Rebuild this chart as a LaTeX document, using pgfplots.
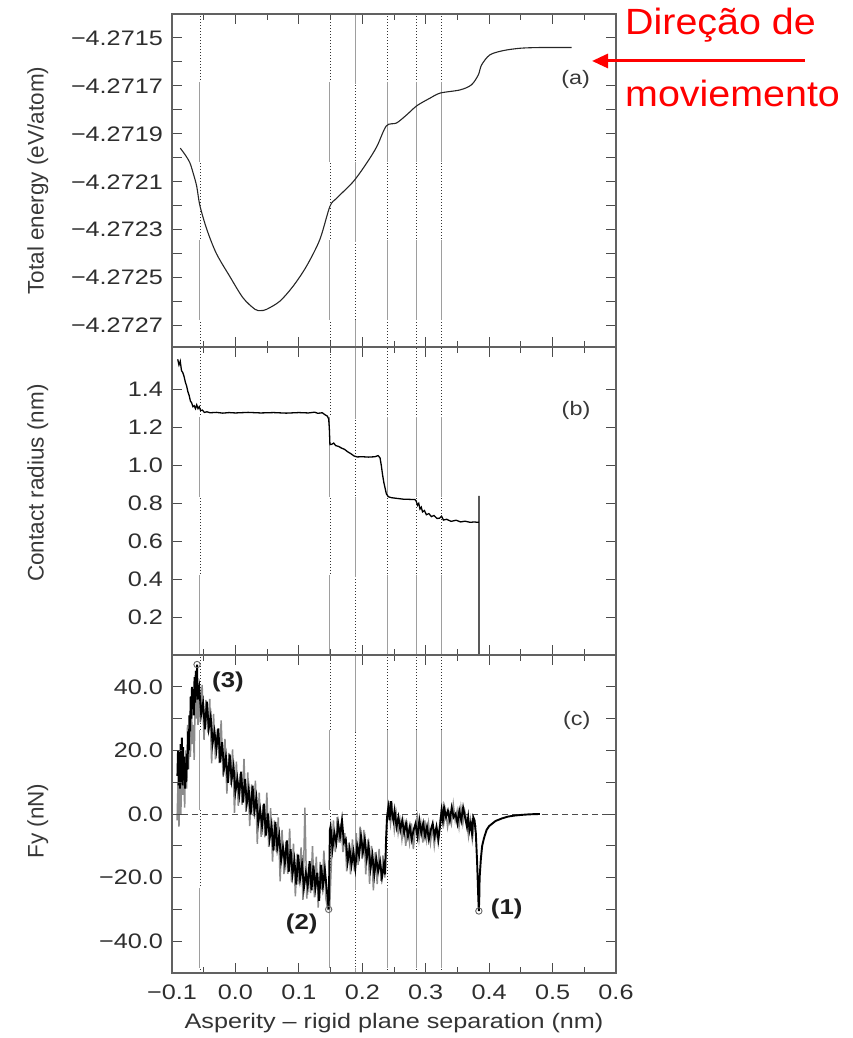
\documentclass[border=0pt]{standalone}
\usepackage{fontspec}
\setmainfont[FakeStretch=1.2]{Liberation Sans}
\newfontfamily\plainsans{Liberation Sans}
\newfontfamily\notesans[FakeStretch=1.08]{Liberation Sans}
\usepackage{pgfplots}
\pgfplotsset{compat=1.18}
\usetikzlibrary{arrows.meta}

% Energy is stored as an offset: E = -4.27 eV + dE * 1e-4 eV
\pgfplotstableread{
x dE
-0.087 -19.6
-0.080 -19.85
-0.072 -20.2
-0.066 -20.7
-0.061 -21.2
-0.056 -22.0
-0.045 -23.0
-0.030 -24.0
-0.009 -24.95
0.012 -25.85
0.031 -26.33
0.040 -26.38
0.049 -26.33
0.070 -25.99
0.091 -25.36
0.112 -24.53
0.133 -23.42
0.149 -22.03
0.160 -21.68
0.186 -20.99
0.207 -20.22
0.223 -19.53
0.238 -18.67
0.254 -18.55
0.270 -18.21
0.286 -17.83
0.307 -17.51
0.323 -17.30
0.354 -17.17
0.372 -16.96
0.383 -16.54
0.388 -16.13
0.401 -15.71
0.422 -15.53
0.449 -15.43
0.480 -15.40
0.530 -15.40
}\energytab

\pgfplotstableread{
x r
-0.091 1.56
-0.089 1.53
-0.087 1.55
-0.085 1.50
-0.083 1.49
-0.081 1.47
-0.079 1.44
-0.077 1.42
-0.075 1.39
-0.073 1.37
-0.071 1.34
-0.069 1.33
-0.067 1.31
-0.065 1.315
-0.063 1.30
-0.061 1.32
-0.059 1.30
-0.057 1.31
-0.055 1.29
-0.052 1.292
-0.049 1.28
-0.045 1.283
-0.040 1.278
-0.030 1.280
-0.020 1.276
-0.010 1.279
0.000 1.277
0.020 1.280
0.040 1.277
0.060 1.279
0.080 1.276
0.100 1.279
0.115 1.277
0.125 1.281
0.130 1.275
0.137 1.278
0.141 1.268
0.145 1.260
0.147 1.245
0.148 1.200
0.149 1.110
0.152 1.112
0.155 1.118
0.158 1.105
0.163 1.100
0.167 1.092
0.172 1.085
0.177 1.072
0.182 1.062
0.187 1.050
0.192 1.045
0.200 1.046
0.210 1.044
0.220 1.046
0.225 1.052
0.228 1.040
0.230 1.000
0.232 0.950
0.234 0.910
0.236 0.880
0.238 0.850
0.241 0.835
0.246 0.830
0.255 0.826
0.265 0.822
0.275 0.821
0.283 0.820
0.285 0.812
0.287 0.790
0.289 0.800
0.291 0.770
0.293 0.780
0.295 0.755
0.298 0.762
0.301 0.740
0.305 0.746
0.309 0.730
0.313 0.736
0.318 0.720
0.322 0.722
0.325 0.732
0.328 0.712
0.333 0.716
0.340 0.705
0.348 0.711
0.355 0.702
0.362 0.706
0.370 0.700
0.377 0.702
0.381 0.700
0.384 0.700
0.384 0.840
0.384 0.000
}\radiustab

% lateral force, main trace
\pgfplotstableread{
x F
-0.0915 12
-0.0905 20
-0.0895 9
-0.0885 16
-0.0875 8
-0.0865 22
-0.0855 10
-0.0845 24
-0.0835 9
-0.0825 21
-0.0815 11
-0.0805 18
-0.0795 8
-0.0785 15
-0.0775 10
-0.0765 19
-0.0755 14
-0.0745 26
-0.0735 20
-0.0725 31
-0.0715 26
-0.0705 37
-0.0695 30
-0.0685 40
-0.0675 33
-0.0665 39
-0.0655 31
-0.0645 43
-0.0635 35
-0.0625 45
-0.0615 37
-0.0605 47
-0.0595 36
-0.057 39.6
-0.054 31.3
-0.051 34.9
-0.048 26.6
-0.045 35.3
-0.042 26.9
-0.039 30.6
-0.036 22.2
-0.033 25.9
-0.030 20.5
-0.027 26.9
-0.024 16.2
-0.021 22.6
-0.018 14.2
-0.015 18.0
-0.012 9.8
-0.009 18.7
-0.006 10.8
-0.003 14.9
0.000 7.0
0.003 11.1
0.006 6.2
0.009 13.3
0.012 3.6
0.015 11.0
0.018 3.4
0.021 7.7
0.024 -0.2
0.027 8.9
0.030 1.0
0.033 5.1
0.036 -2.8
0.039 1.3
0.042 -3.7
0.045 3.25
0.048 -6.8
0.051 0.2
0.054 -7.7
0.057 -3.6
0.060 -11.5
0.063 -2.5
0.066 -10.6
0.069 -6.7
0.072 -14.6
0.075 -10.5
0.078 -15.4
0.081 -8.3
0.084 -18.2
0.087 -11.1
0.090 -19.0
0.093 -14.6
0.096 -22.2
0.099 -12.8
0.102 -20.3
0.105 -15.75
0.108 -23.2
0.111 -18.55
0.114 -22.7
0.117 -14.85
0.120 -24.0
0.123 -16.15
0.126 -23.3
0.129 -18.45
0.132 -27.3
0.135 -16.0
0.138 -22.7
0.141 -17.4
0.144 -23.7
0.147 -30.0
0.149 -5
0.150 -4
0.153 -11
0.156 -6
0.159 -9
0.162 -3
0.165 -7
0.168 -2
0.171 -9
0.174 -8
0.177 -15
0.180 -11
0.183 -16
0.186 -12
0.189 -17
0.192 -10
0.195 -13
0.198 -7
0.201 -12
0.204 -8
0.207 -14
0.210 -10
0.213 -17
0.216 -13
0.219 -19
0.222 -14
0.225 -18
0.228 -15
0.231 -20
0.234 -16
0.236 -19
0.2375 -8
0.239 -1
0.241 2
0.243 -2
0.245 4
0.247 0
0.249 -2
0.251 1
0.254 -4
0.257 -1
0.260 -5
0.263 -2
0.266 -6
0.269 -3
0.272 -7
0.275 -4
0.278 -8
0.281 -5
0.284 -3
0.287 -7
0.290 -2
0.293 -6
0.296 -3
0.299 -7
0.302 -4
0.305 -8
0.308 -5
0.311 -3
0.314 -7
0.317 -4
0.320 -8
0.323 -3
0.325 1
0.327 -2
0.329 2
0.332 -1
0.335 1
0.338 -2
0.341 2
0.344 -1
0.347 0
0.350 -3
0.353 1
0.356 -2
0.359 2
0.362 -1
0.365 -4
0.367 -1
0.369 -5
0.371 -3
0.373 -6
0.375 -1
0.377 -2
0.379 -6
0.381 -15
0.383 -27
0.3838 -30.5
0.3845 -26
0.385 -20
0.387 -14
0.389 -10
0.392 -7.5
0.396 -5
0.400 -3.8
0.405 -3
0.410 -2.2
0.415 -1.8
0.420 -1.4
0.425 -1.1
0.430 -0.8
0.440 -0.5
0.450 -0.3
0.460 -0.15
0.470 -0.05
0.480 0
}\forcetab

% lateral force, scatter of the instantaneous values
\pgfplotstableread{
x F
-0.092 -2
-0.0905 10
-0.089 -4
-0.0875 14
-0.086 0
-0.0845 18
-0.083 6
-0.0815 12
-0.080 2
-0.0785 20
-0.077 8
-0.0755 28
-0.074 14
-0.0725 26
-0.071 18
-0.0695 34
-0.068 22
-0.0665 28
-0.065 17
-0.0635 36
-0.062 30
-0.0605 44
-0.059 28
-0.0575 38
-0.0555 28.8
-0.0525 40.6
-0.0495 23.3
-0.0465 35.9
-0.0435 25.6
-0.0405 36.2
-0.0375 15.9
-0.0345 31.5
-0.0315 17.2
-0.0285 26.7
-0.0255 16.0
-0.0225 29.4
-0.0195 11.8
-0.0165 23.6
-0.0135 6.4
-0.0105 19.2
-0.0075 9.2
-0.0045 20.3
-0.0015 0.4
0.0015 16.5
0.0045 2.6
0.0075 12.7
0.0105 2.9
0.0135 17.3
0.0165 0.7
0.0195 13.1
0.0225 -3.8
0.0255 9.3
0.0285 -0.6
0.0315 10.5
0.0345 -9.4
0.0375 6.75
0.0405 -7.2
0.0435 2.8
0.0465 -7.3
0.0495 6.7
0.0525 -10.3
0.0555 1.8
0.0585 -15.0
0.0615 -2.0
0.0645 -12.0
0.0675 -1.1
0.0705 -21.2
0.0735 -5.0
0.0765 -18.9
0.0795 -8.8
0.0825 -18.8
0.0855 -4.6
0.0885 -21.5
0.0915 -9.3
0.0945 -25.9
0.0975 -12.5
0.1005 -22.1
0.1035 -10.5
0.1065 -27.0
0.1095 2.0
0.1125 -26.6
0.1155 -15.8
0.1185 -24.9
0.1215 -10.1
0.1245 -26.2
0.1275 -13.4
0.1305 -29.4
0.1335 -15.1
0.1365 -23.9
0.1395 -11.5
0.1425 -26.5
0.1455 -30.0
0.1485 -30.0
0.1515 -14
0.1545 -2
0.1575 -12
0.1605 -1
0.1635 -9
0.1665 -3
0.1695 -12
0.1725 -6
0.1755 -18
0.1785 -9
0.1815 -19
0.1845 -8
0.1875 -18
0.1905 -6
0.1935 -16
0.1965 -4
0.1995 -14
0.2025 -5
0.2055 -19
0.2085 -8
0.2115 -22
0.2145 -10
0.2175 -24
0.2205 -12
0.2235 -22
0.2265 -11
0.2295 -21
0.2325 -13
0.2355 -20
0.2385 -4
0.2415 4
0.2445 -3
0.2475 2
0.2505 -5
0.2535 0
0.2565 -6
0.2595 -2
0.2625 -8
0.2655 -3
0.2685 -10
0.2715 -4
0.2745 -9
0.2775 -3
0.2805 -11
0.2835 -5
0.2865 -1
0.2895 -8
0.2925 -3
0.2955 -9
0.2985 -2
0.3015 -8
0.3045 -3
0.3075 -9
0.3105 -4
0.3135 -10
0.3165 -5
0.3195 -9
0.3225 -2
0.3255 2
0.3285 -3
0.3315 1
0.3345 -4
0.3375 0
0.3405 -3
0.3435 3
0.3465 -2
0.3495 1
0.3525 -4
0.3555 2
0.3585 -3
0.3615 1
0.3645 -2
0.3675 -7
0.3705 -2
0.3735 -8
0.3765 -3
0.3795 -4
}\forcescattertab

% vertical marker: dotted line with light solid stretches
\newcommand{\sepmark}[4]{%
  \addplot[black!80, line width=0.8pt, dash pattern=on 0.9pt off 2.1pt, forget plot]
    coordinates {(#1,#2) (#1,#3)};
  \addplot[white, line width=1.8pt, dash pattern=on 80pt off 78pt, dash phase=#4pt, forget plot]
    coordinates {(#1,#2) (#1,#3)};
  \addplot[black!38, line width=1pt, dash pattern=on 80pt off 78pt, dash phase=#4pt, forget plot]
    coordinates {(#1,#2) (#1,#3)};
}
\newcommand{\sepmarks}[4]{% ymin, ymax, phase, opposite phase
  \sepmark{-0.056}{#1}{#2}{#3}
  \sepmark{0.149}{#1}{#2}{#3}
  \sepmark{0.189}{#1}{#2}{#4}
  \sepmark{0.239}{#1}{#2}{#3}
  \sepmark{0.286}{#1}{#2}{#3}
  \sepmark{0.325}{#1}{#2}{#3}
}

% inward tick marks on both sides of a panel
\tikzset{tickmark/.style={solid, black!70, line width=1pt}}
\newcommand{\xmarks}[2]{%
  \pgfplotsinvokeforeach{#1}{%
    \draw[tickmark] ({axis cs:##1,0} |- {rel axis cs:0,0}) -- ++(0pt,#2);
    \draw[tickmark] ({axis cs:##1,0} |- {rel axis cs:0,1}) -- ++(0pt,-#2);
  }}
\newcommand{\ymarks}[2]{%
  \pgfplotsinvokeforeach{#1}{%
    \draw[tickmark] ({axis cs:0,##1} -| {rel axis cs:0,0}) -- ++(#2,0pt);
    \draw[tickmark] ({axis cs:0,##1} -| {rel axis cs:1,0}) -- ++(-#2,0pt);
  }}
\newcommand{\xmarksall}{%
  \xmarks{-0.1,0,0.1,0.2,0.3,0.4,0.5,0.6}{9pt}
  \xmarks{-0.05,0.05,0.15,0.25,0.35,0.45,0.55}{5pt}
}

\pgfplotsset{
  panel/.style={
    scale only axis, width=444pt,
    xmin=-0.1, xmax=0.6,
    axis on top,
    axis line style={black!62, line width=1.3pt},
    tick style={black!70, line width=1pt},
    tickwidth=10pt, subtickwidth=6pt,
    xtick={-0.1,0,0.1,0.2,0.3,0.4,0.5,0.6},
    minor xtick={-0.05,0.05,0.15,0.25,0.35,0.45,0.55},
    tick label style={font=\fontsize{21}{21}\selectfont, text=black!82},
    yticklabel style={anchor=east, inner sep=0pt, xshift=-9pt},
    ylabel style={font=\plainsans\fontsize{22.5}{22.5}\selectfont, text=black!78, anchor=center},
  },
}
\tikzset{
  paneltag/.style={font=\fontsize{19.5}{19.5}\selectfont, text=black!78},
  pointtag/.style={font=\bfseries\fontsize{21.5}{21.5}\selectfont, text=black!88},
}

\begin{document}
\begin{tikzpicture}
% page frame: everything below stays inside it
\path (0,0) rectangle (852pt,1038pt);

% (a) total energy
\begin{axis}[panel, at={(172pt,691pt)}, anchor=south west, height=333pt,
  ymin=-27.9, ymax=-14,
  ytick={-27,-25,-23,-21,-19,-17,-15},
  yticklabels={−4.2727,−4.2725,−4.2723,−4.2721,−4.2719,−4.2717,−4.2715},
  minor ytick={-26,-24,-22,-20,-18,-16},
  xticklabels={},
  ylabel={Total energy (eV/atom)},
  ylabel style={at={(axis description cs:-0.302,0.5)}}]
  \sepmarks{-27.9}{-14}{131}{53}
  \addplot[solid, black!85, line width=1.1pt, smooth, tension=0.5] table[x=x, y=dE] {\energytab};
  \xmarksall
  \ymarks{-27,-26,-25,-24,-23,-22,-21,-20,-19,-18,-17,-16,-15}{10pt}
  \node[paneltag] at (axis cs:0.5365,-16.75) {(a)};
\end{axis}

% (b) contact radius
\begin{axis}[panel, at={(172pt,383pt)}, anchor=south west, height=308pt,
  ymin=0, ymax=1.625,
  ytick={0.2,0.4,0.6,0.8,1.0,1.2,1.4},
  yticklabels={0.2,0.4,0.6,0.8,1.0,1.2,1.4},
  xticklabels={},
  ylabel={Contact radius (nm)},
  ylabel style={at={(axis description cs:-0.302,0.558)}}]
  \sepmarks{0}{1.625}{0}{80}
  \addplot[solid, black, line width=1.3pt] table[x=x, y=r] {\radiustab};
  \xmarksall
  \ymarks{0.2,0.4,0.6,0.8,1.0,1.2,1.4}{10pt}
  \node[paneltag] at (axis cs:0.537,1.289) {(b)};
\end{axis}

% (c) lateral force
\begin{axis}[panel, at={(172pt,65pt)}, anchor=south west, height=318pt,
  ymin=-50, ymax=50,
  ytick={-40,-20,0,20,40},
  yticklabels={−40.0,−20.0,0.0,20.0,40.0},
  minor ytick={-30,-10,10,30},
  xticklabels={−0.1,0.0,0.1,0.2,0.3,0.4,0.5,0.6},
  xticklabel style={anchor=base, yshift=-27pt},
  xlabel={Asperity – rigid plane separation (nm)},
  xlabel style={at={(axis description cs:0.5,-0.176)}, anchor=base,
    font=\fontsize{21}{21}\selectfont, text=black!80},
  ylabel={Fy (nN)},
  ylabel style={at={(axis description cs:-0.302,0.478)}}]
  \sepmarks{-50}{50}{153}{75}
  \addplot[black!70, line width=1pt, dash pattern=on 6pt off 4pt] coordinates {(-0.1,0) (0.6,0)};
  \addplot[solid, black!45, line width=1.5pt] table[x=x, y=F] {\forcescattertab};
  \addplot[solid, black, line width=1.9pt] table[x=x, y=F] {\forcetab};
  \addplot[solid, only marks, mark=o, mark size=3.2pt, black!60, mark options={solid, fill=white, line width=0.9pt}]
    coordinates {(-0.0605,47) (0.147,-30) (0.3838,-30.5)};
  \xmarksall
  \ymarks{-40,-30,-20,-10,0,10,20,30,40}{10pt}
  \node[pointtag] at (axis cs:-0.0117,41.5) {(3)};
  \node[pointtag] at (axis cs:0.1045,-34.7) {(2)};
  \node[pointtag] at (axis cs:0.4277,-30) {(1)};
  \node[paneltag] at (axis cs:0.538,29.4) {(c)};
\end{axis}

% direction of motion
\draw[red, line width=3pt, -{Triangle[length=16pt, width=14pt]}] (805pt,977pt) -- (592pt,977pt);
\node[anchor=base west, inner sep=0pt, text=red, font=\notesans\fontsize{36.5}{36.5}\selectfont]
  at (625pt,1003pt) {Direção de};
\node[anchor=base west, inner sep=0pt, text=red, font=\notesans\fontsize{36.5}{36.5}\selectfont]
  at (625pt,931pt) {moviemento};
\end{tikzpicture}
\end{document}
